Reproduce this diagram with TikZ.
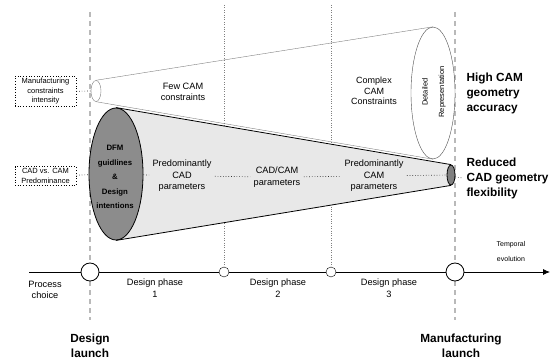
\documentclass[tikz,border=0pt]{standalone}
\usepackage{fontspec}
\setmainfont{Liberation Sans}
\usetikzlibrary{shapes.geometric,backgrounds,arrows.meta}

\begin{document}
\begin{tikzpicture}[x=1pt,y=-1pt,
    lbl/.style={align=center,font=\fontsize{9.2}{11.5}\selectfont},
    tag/.style={draw,dotted,line width=0.7pt,align=center,inner sep=2pt,font=\fontsize{7.5}{9.5}\selectfont},
    head/.style={align=left,font=\bfseries\fontsize{11.8}{15}\selectfont},
    launch/.style={align=center,font=\bfseries\fontsize{11.8}{15}\selectfont},
    cone/.style={ellipse,draw,inner sep=0pt},
    mile/.style={circle,draw,fill=white,inner sep=0pt},
    link/.style={dotted,line width=0.7pt,black!80},
    gate/.style={gray!55,line width=1.4pt,dash pattern=on 5pt off 4pt},
    stage/.style={gray,dotted}]
    \useasboundingbox (0,0) rectangle (552,363);

    \node(G1) at (90,272)[mile,thick,minimum size=18pt]{};
    \node(G2) at (224,272)[mile,minimum size=10pt]{};
    \node(G3) at (331,272)[mile,minimum size=10pt]{};
    \node(G4) at (455,272)[mile,thick,minimum size=18pt]{};
    \coordinate (T0) at (29,272);
    \coordinate (T5) at (550,272);
    \draw [thick] (T0) to (G1);
    \draw [thick] (G1) to (G2);
    \draw [thick] (G2) to (G3);
    \draw [thick] (G3) to (G4);
    \draw [thick,-{Latex[length=7pt,width=6pt]}] (G4) to (T5);

    \coordinate (V1) at (90,12);
    \coordinate (W1) at (90,320);
    \coordinate (V4) at (455,12);
    \coordinate (W4) at (455,320);
    \coordinate (V2) at (224,5);
    \coordinate (V3) at (331,5);

    
    \node(A1) at (96,91)[cone,draw=gray,fill=white,minimum width=10pt,minimum height=21pt]{};
    \node(A2) at (433,93)[cone,draw=black!70,fill=white,minimum width=44pt,minimum height=132pt]{};
    \node(R1) at (434,92)[align=center,rotate=90,font=\fontsize{7.5}{16.5}\selectfont]{Detailed\\Representation};
    \draw [gray] (A1.north) to (A2.north);
    \draw [gray] (A1.south) to (A2.south);

    
    \node(B1) at (116,174)[cone,thick,fill=black!45,minimum width=54pt,minimum height=132pt]{};
    \node(B2) at (451,175)[cone,thick,fill=black!50,minimum width=8pt,minimum height=20pt]{};
    \draw [thick] (B1.north) to (B2.north);
    \draw [thick] (B1.south) to (B2.south);
    \node(D0) at (115,177)[align=center,font=\bfseries\fontsize{7.8}{14.5}\selectfont]{DFM\\guidlines\\\&\\Design\\intentions};

    \begin{pgfonlayer}{background}
    \draw [stage] (V2) to (G2);
    \draw [stage] (V3) to (G3);
    \fill [black!9] (B1.north) -- (B2.north) -- (B2.south) -- (B1.south) -- cycle;
    \draw [gate] (V1) to (G1);
    \draw [gate] (G1) to (W1);
    \draw [gate] (V4) to (G4);
    \draw [gate] (G4) to (W4);
    \end{pgfonlayer}

    \node(M1) at (45.5,91.5)[tag,minimum width=61pt]{Manufacturing\\constraints\\intensity};
    \node(M2) at (45.5,176)[tag,minimum width=61pt]{CAD vs. CAM\\Predominance};
    \draw [link] (M1) to (A1);
    \draw [link] (M2) to (B1);

    \node(L1) at (183,92)[lbl]{Few CAM\\constraints};
    \node(L2) at (374,91)[lbl,font=\fontsize{9}{10.5}\selectfont]{Complex\\CAM\\Constraints};

    \node(N1) at (182,176)[lbl]{Predominantly\\CAD\\parameters};
    \node(N2) at (277,177)[lbl]{CAD/CAM\\parameters};
    \node(N3) at (374,176)[lbl]{Predominantly\\CAM\\parameters};
    \draw [link] (B1) to (N1);
    \draw [link] (N1) to (N2);
    \draw [link] (N2) to (N3);
    \draw [link] (N3) to (B2);

    \node(H1) at (463,93)[head,anchor=west]{High CAM\\geometry\\accuracy};
    \node(H2) at (463,178)[head,anchor=west]{Reduced\\CAD geometry\\flexibility};
    \draw [link] (B2.-25) to (H2.west);

    \node(E1) at (45,290)[lbl]{Process\\choice};
    \node(E2) at (155,288)[lbl]{Design phase\\1};
    \node(E3) at (278,288)[lbl]{Design phase\\2};
    \node(E4) at (389,288)[lbl]{Design phase\\3};
    \node(E5) at (511,251)[align=center,font=\fontsize{7}{15}\selectfont]{Temporal\\evolution};

    \node(S1) at (90,346)[launch]{Design\\launch};
    \node(S2) at (461,346)[launch]{Manufacturing\\launch};
\end{tikzpicture}
\end{document}
